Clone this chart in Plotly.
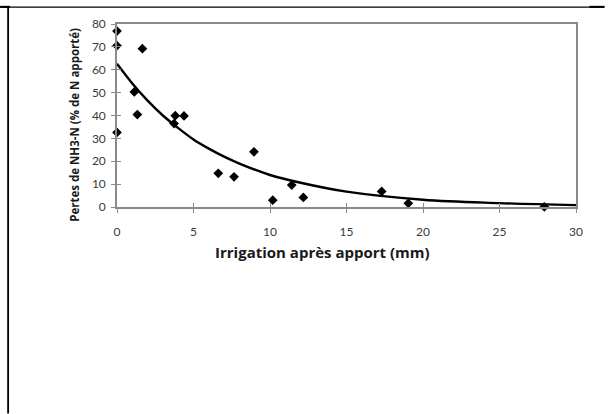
import plotly.graph_objects as go

# Measured points (irrigation mm, NH3-N losses %)
irrigation_mm = [0.0, 0.0, 0.0, 1.66, 1.13, 1.33, 3.73, 3.81, 4.38, 6.62, 7.65, 8.95,
                 10.18, 11.42, 12.18, 17.3, 19.04, 27.93]
losses_pct = [76.9, 70.5, 32.6, 69.2, 50.3, 40.4, 36.5, 39.9, 39.8, 14.7, 13.2, 24.1,
              3.0, 9.6, 4.2, 6.8, 1.6, 0.1]

# Trend curve, values
curve_x = [0, 1, 2, 3, 4, 5, 6, 7, 8, 10, 12, 15, 20, 25, 30]
curve_y = [62.6, 54.0, 46.5, 40.0, 34.5, 29.5, 25.5, 22.0, 19.0, 14.0, 10.6, 6.7, 3.2, 1.7, 0.8]

x_ticks = [0, 5, 10, 15, 20, 25, 30]
y_ticks = [0, 10, 20, 30, 40, 50, 60, 70, 80]

W, H = 610, 414
L, R, T, B = 117, 576.5, 23.5, 207.0
pw, ph = R - L, B - T

def px(x):
    return (x - L) / pw

def py(y):
    return (B - y) / ph

AX = "#8a8a8a"
FONT = "Lato"
TFONT = "Open Sans"

fig = go.Figure()
fig.add_trace(go.Scatter(x=curve_x, y=curve_y, mode="lines", line=dict(color="black", width=2.4, shape="spline"),
                         xaxis="x2", yaxis="y2", cliponaxis=False, showlegend=False, hoverinfo="skip"))
fig.add_trace(go.Scatter(x=irrigation_mm, y=losses_pct, mode="markers",
                         marker=dict(symbol="diamond", size=7.5, color="black"),
                         cliponaxis=False, showlegend=False))

common_x = dict(range=[0, 30], tickvals=x_ticks, showgrid=False, zeroline=False)
common_y = dict(range=[0, 80], tickvals=y_ticks, showgrid=False, zeroline=False)

fig.update_layout(
    width=W, height=H,
    margin=dict(l=L, r=W - R, t=T, b=H - B),
    paper_bgcolor="white", plot_bgcolor="white",
    font=dict(family=FONT, color="#404040"),
    xaxis=dict(**common_x, showline=True, linecolor=AX, linewidth=1.6, mirror=True,
               ticks="outside", ticklen=4, tickcolor=AX, tickwidth=1,
               tickfont=dict(size=12, color="#3a3a3a", family=FONT), ticklabelstandoff=9),
    yaxis=dict(**common_y, showline=True, linecolor=AX, linewidth=1.6, mirror=True,
               ticks="outside", ticklen=4, tickcolor=AX, tickwidth=1,
               tickfont=dict(size=12, color="#3a3a3a", family=FONT), ticklabelstandoff=3),
    xaxis2=dict(**common_x, overlaying="x", anchor="y2", side="bottom", showline=False,
                ticks="inside", ticklen=4, tickcolor=AX, showticklabels=False),
    yaxis2=dict(**common_y, overlaying="y", anchor="x2", side="left", showline=False,
                ticks="inside", ticklen=4, tickcolor=AX, showticklabels=False),
    annotations=[
        dict(text="<b>Irrigation après apport (mm)</b>", x=px(323), y=py(252.5), xref="paper", yref="paper",
             showarrow=False, font=dict(size=15, color="#1a1a1a", family=TFONT), xanchor="center", yanchor="middle"),
        dict(text="<b>Pertes de NH3-N (% de N apporté)</b>", x=px(75), y=py(124.5), xref="paper", yref="paper",
             showarrow=False, textangle=-90, font=dict(size=11.5, color="#1a1a1a", family=TFONT),
             xanchor="center", yanchor="middle"),
    ],
    shapes=[
        dict(type="line", xref="paper", yref="paper", x0=px(0), x1=px(605), y0=py(6.5), y1=py(6.5),
             line=dict(color="black", width=1.3)),
        dict(type="line", xref="paper", yref="paper", x0=px(0), x1=px(10), y0=py(6.3), y1=py(6.3),
             line=dict(color="black", width=2)),
        dict(type="line", xref="paper", yref="paper", x0=px(590), x1=px(605), y0=py(6.3), y1=py(6.3),
             line=dict(color="black", width=2)),
        dict(type="line", xref="paper", yref="paper", x0=px(8), x1=px(8), y0=py(6), y1=py(414),
             line=dict(color="black", width=1.8)),
    ],
)

fig.write_html("out.html")
